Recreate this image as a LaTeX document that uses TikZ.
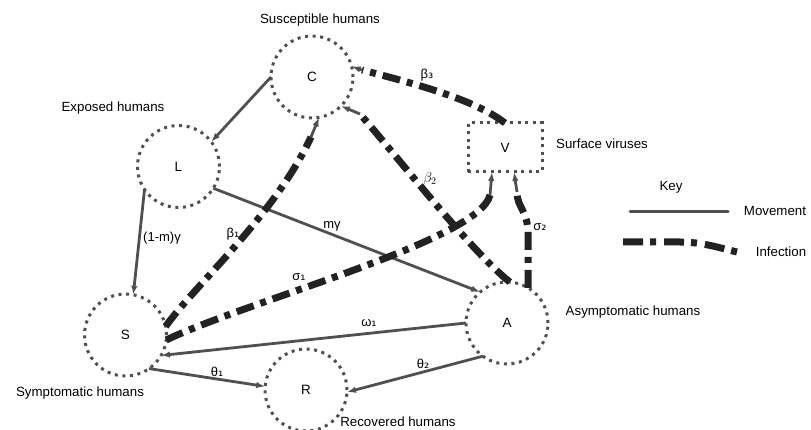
\documentclass[tikz,border=0pt]{standalone}
\usepackage{fontspec}
\setmainfont{Liberation Sans}
\newfontfamily\dv{DejaVu Sans}
\newcommand\subx[1]{{\dv #1}}
\usetikzlibrary{arrows.meta,calc}
\definecolor{mv}{HTML}{505050}
\definecolor{inf}{HTML}{222222}
\begin{document}
\begin{tikzpicture}[x=1pt,y=-1pt]
\tikzset{
 comp/.style={circle, draw=mv, line width=3pt, dash pattern=on 3pt off 4.6pt, minimum size=82pt, inner sep=0pt, outer sep=0pt, font=\fontsize{13.5}{15}\selectfont},
 vbox/.style={rectangle, draw=mv, line width=3pt, dash pattern=on 3pt off 4.6pt, minimum width=74pt, minimum height=49pt, inner sep=0pt, outer sep=0pt, font=\fontsize{13.5}{15}\selectfont},
 lbl/.style={font=\fontsize{13.3}{15}\selectfont, inner sep=0pt},
 slbl/.style={font=\fontsize{13}{15}\selectfont, inner sep=0pt},
 move/.style={draw=mv, line width=2.8pt, -{Latex[length=9pt,width=6.5pt]}},
 infect/.style={draw=inf, line width=7pt, dash pattern=on 18pt off 7pt on 6pt off 7pt},
}
\useasboundingbox (0,0) rectangle (811,430);
% compartments
\node[comp] (C) at (312,77) {C};
\node[comp] (L) at (178.5,166.5) {L};
\node[comp] (S) at (125.5,335) {S};
\node[comp] (R) at (306,390) {R};
\node[comp] (A) at (507,323) {A};
\node[vbox] (V) at (505,147.5) {V};
% labels
\node[lbl] (tC) at (320,20) {Susceptible humans};
\node[lbl] (tL) at (113,108) {Exposed humans};
\node[lbl] (tV) at (602,144) {Surface viruses};
\node[lbl] (tA) at (633,312) {Asymptomatic humans};
\node[lbl] (tS) at (80,393) {Symptomatic humans};
\node[lbl] (tR) at (398,422) {Recovered humans};
% movement
\draw[move] (C.180) -- (L.37);
\draw[move] (L.214) -- (S.79);
\draw[move] (L.-32) -- (A.131);
\draw[move] (A.180) -- (S.-30);
\draw[move] (S.-55) -- (R.175);
\draw[move] (A.234) -- (R.-3);
% infection
\coordinate (b1) at (311,137);
\coordinate (s1) at (490,195);
\coordinate (b2) at (360,114);
\coordinate (b3) at (362,70);
\coordinate (s2) at (517,192);
\draw[infect] (S.12) .. controls (195,285) and (275,215) .. (b1);
\draw[move] (b1) -- (C.-80);
\draw[infect] (S.-7) .. controls (250,300) and (480,240) .. (s1);
\draw[move] (s1) -- ([xshift=-13pt]V.south);
\draw[infect] (A.86) .. controls (470,250) and (400,160) .. (b2);
\draw[move] (b2) -- (C.-45);
\draw[infect] (V.north) .. controls (475,100) and (420,85) .. (b3);
\draw[move] (b3) -- (C.15);
\draw[infect] (A.59) -- ++(0,-53) .. controls (528,210) and (517,208) .. (s2);
\draw[move] (s2) -- ([xshift=9pt]V.south);
% edge labels
\node[slbl] (l1) at (162,238) {(1-m)γ};
\node[slbl] (l2) at (233,234) {β\subx{₁}};
\node[slbl] (l3) at (332,226) {mγ};
\node[slbl] (l4) at (299,277) {σ\subx{₁}};
\node[slbl] (l5) at (369,323) {ω\subx{₁}};
\node[slbl] (l6) at (217,372) {θ\subx{₁}};
\node[slbl] (l7) at (423,364) {θ\subx{₂}};
\node[inner sep=0pt, font=\fontsize{14}{16}\selectfont] (l8) at (430,179) {$\beta_2$};
\node[slbl] (l9) at (427,75) {β\subx{₃}};
\node[slbl] (l10) at (540,227) {σ\subx{₂}};
% key
\node[lbl] (kt) at (671,187) {Key};
\coordinate (k1) at (630,212);
\coordinate (k2) at (728,212);
\draw[draw=mv, line width=3pt, line cap=round] (k1) -- (k2);
\node[lbl] (km) at (775,211) {Movement};
\coordinate (k3) at (623,242);
\coordinate (k4) at (680,242);
\coordinate (k5) at (737,252);
\draw[infect, dash pattern=on 20pt off 7pt on 6pt off 8pt] (k3) -- (k4) .. controls (702,242) and (720,248) .. (k5);
\node[lbl] (ki) at (781,252) {Infection};
\end{tikzpicture}
\end{document}
